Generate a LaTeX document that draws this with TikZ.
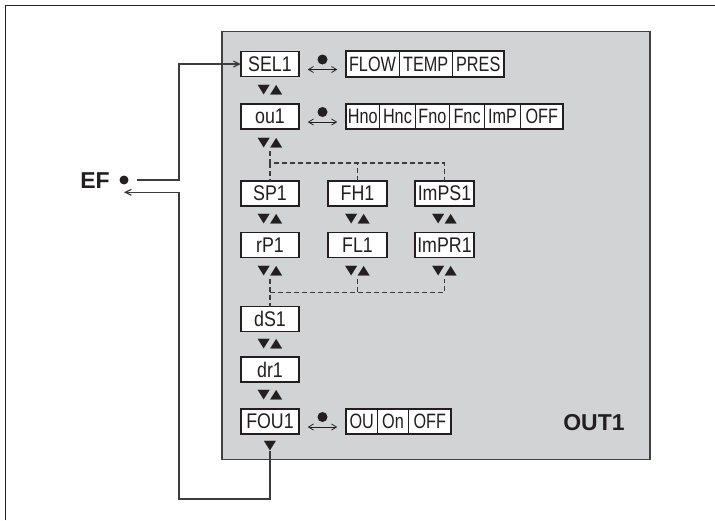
\documentclass[tikz,border=0pt]{standalone}
\usepackage{fontspec}
\usepackage{graphicx}
\setmainfont{Liberation Sans}
\newfontfamily\narrowfont[FakeStretch=0.78]{Liberation Sans}
\newfontfamily\boxfont[FakeStretch=0.84]{Liberation Sans}
\newfontfamily\symbolfont{DejaVu Sans}
\usetikzlibrary{arrows.meta,positioning,fit,calc}
\definecolor{panelgrey}{RGB}{209,211,212}
\definecolor{inkblack}{RGB}{35,31,32}
\definecolor{wiregrey}{RGB}{60,60,60}
\newcommand{\keys}[1]{\scalebox{1}[0.8]{#1}}

\begin{document}
\begin{tikzpicture}[
    x=1pt, y=-1pt,
    mainbox/.style={rectangle, draw=inkblack, line width=1.8pt, fill=white, outer sep=0pt, inner sep=0pt,
                minimum width=58.5pt, minimum height=25pt, font=\boxfont\fontsize{21.2}{22}\selectfont, text=inkblack},
    cell/.style={rectangle, draw=inkblack, line width=0.9pt, fill=white, outer sep=0pt, inner sep=0pt,
                minimum height=25.5pt, font=\narrowfont\fontsize{20.8}{22}\selectfont, text=inkblack},
    cellframe/.style={rectangle, draw=inkblack, line width=1.6pt, inner sep=0pt},
    updn/.style={inner sep=0pt, font=\symbolfont\fontsize{16}{16}\selectfont, text=inkblack},
    knob/.style={circle, fill=inkblack, minimum size=10pt, inner sep=0pt},
    toggle/.style={{Straight Barb[length=5pt,width=6pt]}-{Straight Barb[length=5pt,width=6pt]},
                line width=0.8pt, draw=inkblack, shorten <=8.5pt, shorten >=8.5pt},
    dline/.style={dash pattern=on 5pt off 3pt, line width=1.2pt, draw=wiregrey},
    loopline/.style={-{Straight Barb[length=6pt,width=6pt]}, line width=1.2pt, draw=wiregrey},
    title/.style={font=\bfseries\fontsize{23}{24}\selectfont, text=inkblack}
]
\useasboundingbox (0,0) rectangle (715,520);
% frame and grey panel
\draw[inkblack, line width=1.6pt] (5.5,520) -- (5.5,5.5) -- (715,5.5);
\filldraw[fill=panelgrey, draw=black!75, line width=1.2pt] (222,31.5) rectangle (650,459.5);

% main column
\node[mainbox] (sel) at (270,64) {SEL1};
\node[mainbox, below=27.5pt of sel] (ou) {ou1};
\node[mainbox, below=52pt of ou] (sp) {SP1};
\node[mainbox, right=29pt of sp] (fh) {FH1};
\node[mainbox, right=28.5pt of fh] (imps) {ImPS1};
\node[mainbox, below=26.5pt of sp] (rp) {rP1};
\node[mainbox, right=29pt of rp] (fl) {FL1};
\node[mainbox, right=28.5pt of fl] (impr) {ImPR1};
\node[mainbox, below=49pt of rp] (ds) {dS1};
\node[mainbox, below=25.5pt of ds] (dr) {dr1};
\node[mainbox, below=27pt of dr] (fou) {FOU1};

% up/down keys
\node[updn] (u1) at ($(sel.south)+(0,14)$) {\keys{▼▲}};
\node[updn] (u2) at ($(ou.south)+(0,14)$) {\keys{▼▲}};
\node[updn] (u3a) at ($(sp.south)+(0,13)$) {\keys{▼▲}};
\node[updn] (u3b) at ($(fh.south)+(0,13)$) {\keys{▼▲}};
\node[updn] (u3c) at ($(imps.south)+(0,13)$) {\keys{▼▲}};
\node[updn] (u4a) at ($(rp.south)+(0,14)$) {\keys{▼▲}};
\node[updn] (u4b) at ($(fl.south)+(0,14)$) {\keys{▼▲}};
\node[updn] (u4c) at ($(impr.south)+(0,14)$) {\keys{▼▲}};
\node[updn] (u5) at ($(ds.south)+(0,12.5)$) {\keys{▼▲}};
\node[updn] (u6) at ($(dr.south)+(0,13)$) {\keys{▼▲}};
\node[updn] (fdown) at ($(fou.south)+(0,12)$) {\keys{▼}};

% option rows
\node[cell, minimum width=53.5pt, right=46.5pt of sel] (flow) {FLOW};
\node[cell, minimum width=53pt, right=0pt of flow] (temp) {TEMP};
\node[cell, minimum width=52pt, right=0pt of temp] (pres) {PRES};
\node[cellframe, fit=(flow)(pres)] (selopt) {};

\node[cell, minimum width=34pt, right=46.5pt of ou] (hno) {Hno};
\node[cell, minimum width=35.4pt, right=0pt of hno] (hnc) {Hnc};
\node[cell, minimum width=34.6pt, right=0pt of hnc] (fno) {Fno};
\node[cell, minimum width=34.7pt, right=0pt of fno] (fnc) {Fnc};
\node[cell, minimum width=36.3pt, right=0pt of fnc] (imp) {ImP};
\node[cell, minimum width=42pt, right=0pt of imp] (ouoff) {OFF};
\node[cellframe, fit=(hno)(ouoff)] (ouopt) {};

\node[cell, minimum width=32pt, right=46.5pt of fou] (fouou) {OU};
\node[cell, minimum width=30.6pt, right=0pt of fouou] (fouon) {On};
\node[cell, minimum width=42.8pt, right=0pt of fouon] (fouoff) {OFF};
\node[cellframe, fit=(fouou)(fouoff)] (fouopt) {};

% set keys with toggle arrows
\node[knob] (k1) at ($(sel.east)!0.5!(flow.west)+(0,-4.5)$) {};
\node[knob] (k2) at ($(ou.east)!0.5!(hno.west)+(0,-4.5)$) {};
\node[knob] (k3) at ($(fou.east)!0.5!(fouou.west)+(0,-4.5)$) {};
\draw[toggle] ([yshift=-5.5pt]sel.east) -- ([yshift=-5.5pt]flow.west);
\draw[toggle] ([yshift=-5.5pt]ou.east) -- ([yshift=-5.5pt]hno.west);
\draw[toggle] ([yshift=-5.5pt]fou.east) -- ([yshift=-5.5pt]fouou.west);

% dashed branches
\coordinate (jt) at ($(sp.north)+(0,-18)$);
\coordinate (jb) at ($(ds.north)+(0,-14)$);
\draw[dline, shorten <=3pt] (u2.south) -- (jt) -| (imps.north);
\draw[dline] (jt) -- (sp.north);
\draw[dline] (fh.north) -- (fh.north |- jt);
\draw[dline, shorten <=2pt] (u4a.south) -- (jb) -- (ds.north);
\draw[dline] (jb) -| ([yshift=-2pt]u4c.south);
\draw[dline, shorten <=2pt] (u4b.south) -- (u4b.south |- jb);

% EF loop
\node[title] (ef) at (95,181) {EF};
\node[knob, minimum size=9pt] (efdot) at (124,180) {};
\coordinate (loopx) at (179,0);
\coordinate (ret) at (124,192.3);
\coordinate (bot) at (270,499);
\draw[loopline] ([xshift=8.5pt]efdot.east) -- (loopx |- efdot) |- (sel.west);
\draw[loopline] (fdown.south) -- (bot) -| (loopx |- ret) -- (ret);

\node[title] (out) at (594,423) {OUT1};
\end{tikzpicture}
\end{document}
